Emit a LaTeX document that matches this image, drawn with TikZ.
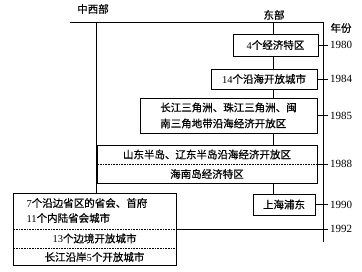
\documentclass[tikz,border=0pt]{standalone}
\usepackage{fontspec}
\setmainfont{Liberation Serif}
\newfontfamily\zh[FakeBold=0.6]{Noto Sans CJK SC}
\usetikzlibrary{positioning}

\begin{document}
\begin{tikzpicture}[
  x=1pt, y=-1pt,
  font=\fontsize{10.5}{16}\selectfont,
  box/.style={draw, line width=0.8pt, inner sep=0pt, align=center},
  link/.style={line width=0.7pt},
  sep/.style={densely dotted, line width=0.6pt},
  year/.style={anchor=west, inner sep=0pt, font=\fontsize{11}{13}\selectfont}
]
\useasboundingbox (0,0) rectangle (362,271);

% headings
\node (zhongxibu) at (93,9) {\zh 中西部};
\node (dongbu) at (274,15) {\zh 东部};
\node (nianfen) at (341,28) {\zh 年份};

\coordinate (topleft) at (70,22.7);
\coordinate (axistop) at (323,22.7);
\coordinate (axisend) at (323,242);
\coordinate (east) at (273,22.7);
\coordinate (west) at (96,22.7);

% east column
\node[box, minimum width=85pt, minimum height=22pt] (tequ) at (275.5,45) {4{\zh 个经济特区}};
\node[box, minimum width=106pt, minimum height=20pt] (yanhai) at (264,79) {14{\zh 个沿海开放城市}};
\node[box, minimum width=177pt, minimum height=35pt, align=left] (sanjiao) at (228.5,115.5)
  {\zh 长江三角洲、珠江三角洲、闽\\\zh 南三角地带沿海经济开放区};
\node[box, minimum width=220pt, minimum height=38pt] (bandao) at (207,164) {};
\node (shandong) at (207,154.5) {\zh 山东半岛、辽东半岛沿海经济开放区};
\node (hainan) at (207,174) {\zh 海南岛经济特区};
\node[box, minimum width=62pt, minimum height=21pt] (pudong) at (284,204.5) {\zh 上海浦东};

% west column
\node[box, minimum width=163pt, minimum height=72pt] (neilu) at (94.5,229) {};
\node[anchor=west, align=left, font=\fontsize{10.5}{15}\selectfont] (shenghui) at (23,210.5)
  {7{\zh 个沿边省区的省会、首府}\\11{\zh 个内陆省会城市}};
\node (bianjing) at (94.5,238.5) {13{\zh 个边境开放城市}};
\node (yanjiang) at (94.5,257) {{\zh 长江沿岸}5{\zh 个开放城市}};
\coordinate (cut) at (neilu.east);

% years
\node[year] (y1980) at (330,45) {1980};
\node[year] (y1984) at (330,79) {1984};
\node[year] (y1985) at (330,115.5) {1985};
\node[year] (y1988) at (330,164) {1988};
\node[year] (y1990) at (330,204.5) {1990};
\node[year] (y1992) at (330,229) {1992};

% frame
\draw[link] (topleft) -- (axistop) -- (axisend);
\draw[link] (west) -- (west |- neilu.north);
\draw[link] (east) -- (east |- tequ.north);
\draw[link] (east |- tequ.south) -- (east |- yanhai.north);
\draw[link] (east |- yanhai.south) -- (east |- sanjiao.north);
\draw[link] (east |- sanjiao.south) -- (east |- bandao.north);
\draw[link] (east |- bandao.south) -- (east |- pudong.north);

% dotted dividers
\draw[sep] (bandao.west) -- (bandao.east);
\draw[sep] (neilu.west) -- (neilu.east);
\draw[sep] (neilu.west |- 0,248) -- (neilu.east |- 0,248);

% ticks
\draw[link] (tequ.east) -- ([xshift=-2pt]y1980.west);
\draw[link] (yanhai.east) -- ([xshift=-2pt]y1984.west);
\draw[link] (sanjiao.east) -- ([xshift=-2pt]y1985.west);
\draw[link] (bandao.east) -- ([xshift=-2pt]y1988.west);
\draw[link] (pudong.east) -- ([xshift=-2pt]y1990.west);
\draw[link] (cut) -- ([xshift=-2pt]y1992.west);
\end{tikzpicture}
\end{document}
